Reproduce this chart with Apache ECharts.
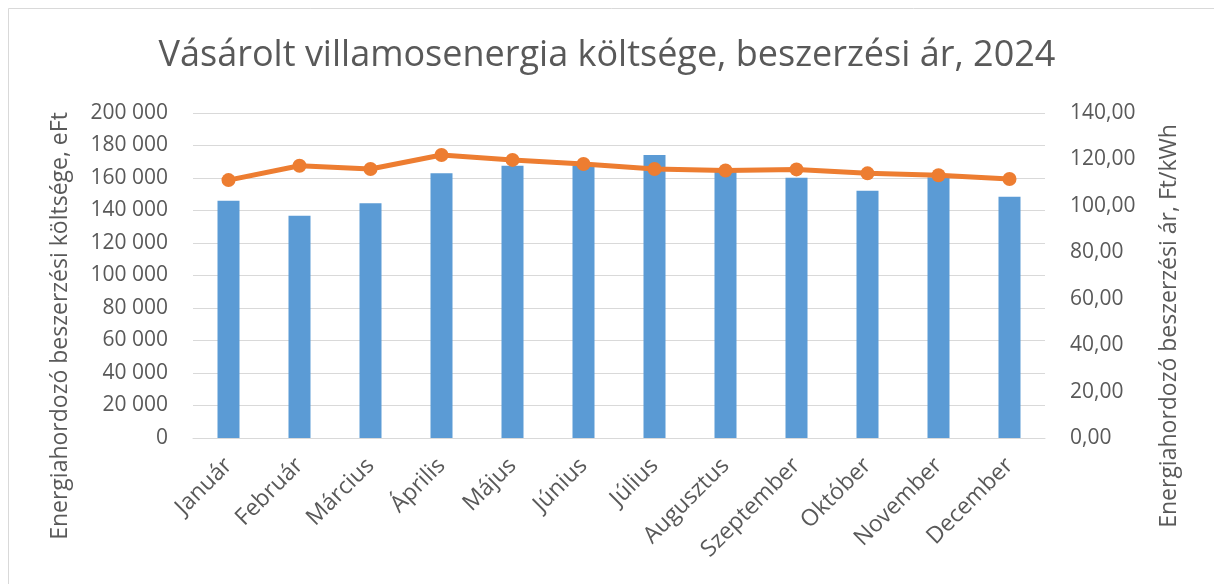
<!DOCTYPE html>
<html>
<head>
<meta charset="utf-8">
<script src="https://cdn.jsdelivr.net/npm/echarts@6/dist/echarts.min.js"></script>
<style>
  html, body { margin: 0; padding: 0; background: #fff; }
  #chart { width: 1214px; height: 584px; }
</style>
</head>
<body>
<div id="chart"></div>
<script>
// adatok
var months = ['Január', 'Február', 'Március', 'Április', 'Május', 'Június', 'Július', 'Augusztus', 'Szeptember', 'Október', 'November', 'December'];
var costValues = [146000, 136800, 144400, 162900, 167600, 167500, 174200, 165000, 160200, 152200, 160500, 148500];
var priceValues = [111.1, 117.3, 115.9, 121.9, 119.8, 118.0, 115.9, 115.2, 115.7, 114.0, 113.2, 111.6];

var txt = '#595959';
var font = 'Open Sans';

var myChart = echarts.init(document.getElementById('chart'));

var option = {
  backgroundColor: '#fff',
  animation: false,
  textStyle: { fontFamily: font },
  title: {
    text: 'Vásárolt villamosenergia költsége, beszerzési ár, 2024',
    left: 'center',
    top: 33,
    textStyle: { color: txt, fontSize: 36, fontWeight: 'normal', fontFamily: font }
  },
  graphic: [
    {
      type: 'rect',
      shape: { x: 8.5, y: 8.5, width: 1240, height: 620 },
      style: { fill: 'none', stroke: '#D9D9D9', lineWidth: 1 }
    },
    {
      type: 'text',
      x: 60, y: 326, rotation: Math.PI / 2,
      style: {
        text: 'Energiahordozó beszerzési költsége, eFt',
        fill: txt, font: '23px "Open Sans"',
        align: 'center', verticalAlign: 'middle'
      }
    },
    {
      type: 'text',
      x: 1169, y: 326, rotation: Math.PI / 2,
      style: {
        text: 'Energiahordozó beszerzési ár, Ft/kWh',
        fill: txt, font: '23px "Open Sans"',
        align: 'center', verticalAlign: 'middle'
      }
    }
  ],
  grid: { left: 193, right: 169, top: 113, bottom: 146 },
  xAxis: {
    type: 'category',
    data: months,
    axisTick: { show: false },
    axisLine: { lineStyle: { color: '#D9D9D9', width: 1 } },
    axisLabel: { color: txt, fontSize: 23, rotate: 45, margin: 24, interval: 0 }
  },
  yAxis: [
    {
      type: 'value',
      min: 0, max: 200000, interval: 20000,
      axisLine: { show: false },
      axisTick: { show: false },
      splitLine: { lineStyle: { color: '#D9D9D9', width: 1 } },
      axisLabel: {
        color: txt, fontSize: 21, margin: 25,
        formatter: function (v) { return String(v).replace(/\B(?=(\d{3})+(?!\d))/g, ' '); }
      }
    },
    {
      type: 'value',
      min: 0, max: 140, interval: 20,
      axisLine: { show: false },
      axisTick: { show: false },
      splitLine: { show: false },
      axisLabel: {
        color: txt, fontSize: 21, margin: 25,
        formatter: function (v) { return v.toFixed(2).replace('.', ','); }
      }
    }
  ],
  series: [
    {
      name: 'Költség',
      type: 'bar',
      data: costValues,
      barWidth: 22,
      itemStyle: { color: '#5B9BD5' }
    },
    {
      name: 'Ár',
      type: 'line',
      yAxisIndex: 1,
      data: priceValues,
      symbol: 'circle',
      symbolSize: 14,
      lineStyle: { color: '#ED7D31', width: 5 },
      itemStyle: { color: '#ED7D31' }
    }
  ]
};

myChart.setOption(option);
</script>
</body>
</html>
